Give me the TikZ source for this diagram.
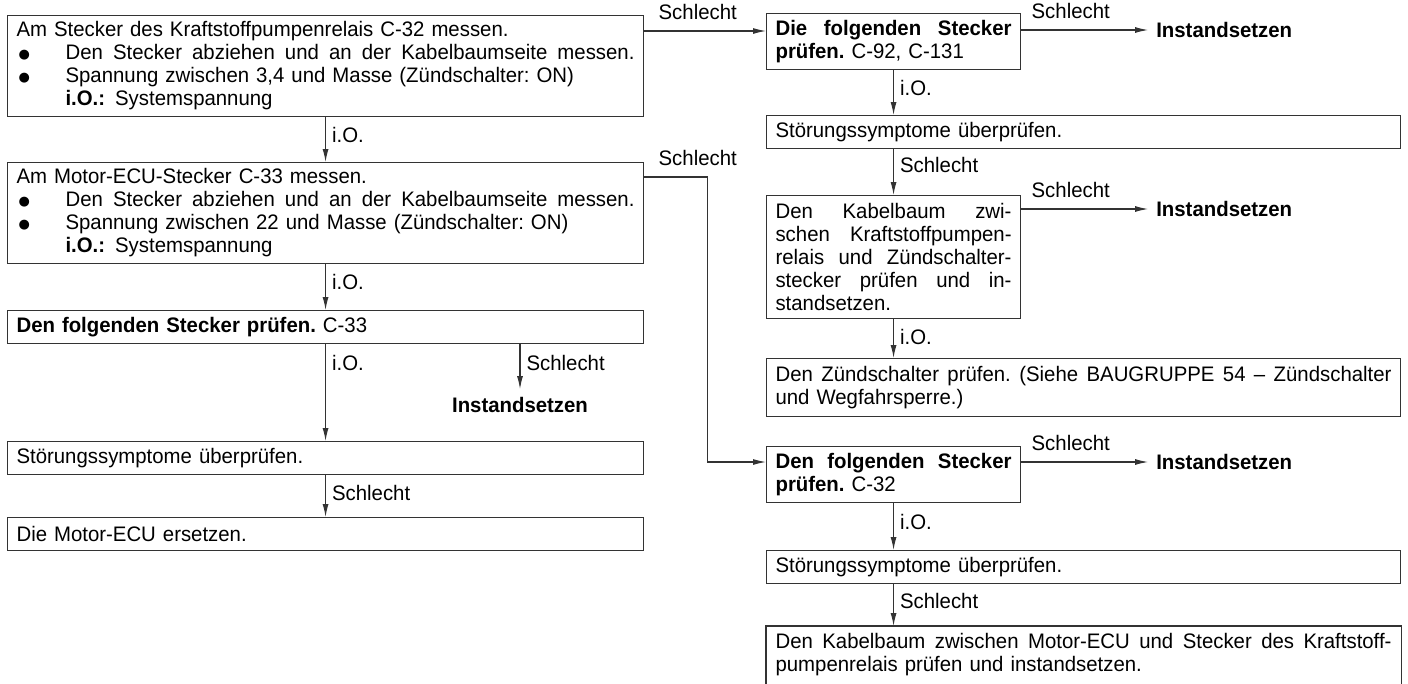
\documentclass[tikz,border=0pt]{standalone}
\usepackage{fontspec}
\setmainfont{Liberation Sans}[FakeStretch=0.97]
\newfontfamily\symf{DejaVu Sans}
\usetikzlibrary{arrows.meta,calc}

% text size used throughout the chart
\newcommand{\txt}{\fontsize{21}{23}\selectfont\frenchspacing}
% list bullet with hanging indent
\newcommand{\bul}{\makebox[49pt][l]{\hspace{2pt}{\symf\fontsize{13}{13}\selectfont\raisebox{1.5pt}{●}}}}
% a justified (full-width) line: word spaces stretch to fill the width
\newcommand{\spread}[2]{{\spaceskip=0.27em plus 1fil\relax\makebox[#1][s]{#2}}}

\tikzset{
  edge/.style={line width=1.1pt, draw=black!80},
  box/.style={edge, draw, anchor=north west, inner xsep=9pt, inner ysep=0pt, align=left, font=\txt},
  flow/.style={edge, -{Latex[length=13pt,width=6pt]}},
  lbl/.style={font=\txt, inner sep=3pt},
  lblup/.style={lbl, anchor=south west, yshift=8pt},
  lblside/.style={lbl, anchor=west, xshift=3pt},
  fix/.style={font=\txt\bfseries, inner sep=8pt},
}

\begin{document}
\begin{tikzpicture}[x=1pt,y=-1pt]
\useasboundingbox (0,0) rectangle (1408,683);
\clip (0,0) rectangle (1408,683);

% ---------------- left column ----------------
\node[box, text width=618pt, minimum height=101pt] (b1) at (7,15) {%
Am Stecker des Kraftstoffpumpenrelais C-32 messen.\\
\bul\spread{569pt}{Den Stecker abziehen und an der Kabelbaumseite messen.}\\
\bul Spannung zwischen 3,4 und Masse (Zündschalter: ON)\\
\hspace*{49pt}\textbf{i.O.:}\hspace{10pt}Systemspannung};

\node[box, text width=618pt, minimum height=101pt] (b2) at (7,162) {%
Am Motor-ECU-Stecker C-33 messen.\\
\bul\spread{569pt}{Den Stecker abziehen und an der Kabelbaumseite messen.}\\
\bul Spannung zwischen 22 und Masse (Zündschalter: ON)\\
\hspace*{49pt}\textbf{i.O.:}\hspace{10pt}Systemspannung};

\node[box, text width=618pt, minimum height=33pt] (b3) at (7,310)
  {\textbf{Den folgenden Stecker prüfen.} C-33};
\node[box, text width=618pt, minimum height=33pt] (sl) at (7,441)
  {Störungssymptome überprüfen.};
\node[box, text width=618pt, minimum height=33pt] (dl) at (7,517)
  {Die Motor-ECU ersetzen.};
\node[fix] (instL) at (520,405) {Instandsetzen};

% ---------------- right column ----------------
\node[box, text width=236pt, minimum height=56pt] (b6) at (766,13) {%
\spread{236pt}{\textbf{Die folgenden Stecker}}\\
\textbf{prüfen.} C-92, C-131};
\node[box, text width=616pt, minimum height=33pt] (sr1) at (766,115)
  {Störungssymptome überprüfen.};
\node[box, text width=236pt, minimum height=123pt] (kb) at (766,195) {%
\spread{236pt}{Den Kabelbaum zwi-}\\
\spread{236pt}{schen Kraftstoffpumpen-}\\
\spread{236pt}{relais und Zündschalter-}\\
\spread{236pt}{stecker prüfen und in-}\\
standsetzen.};
\node[box, text width=616pt, minimum height=58pt] (zs) at (766,358) {%
\spread{616pt}{Den Zündschalter prüfen. (Siehe BAUGRUPPE 54 – Zündschalter}\\
und Wegfahrsperre.)};
\node[box, text width=236pt, minimum height=56pt] (b10) at (766,446) {%
\spread{236pt}{\textbf{Den folgenden Stecker}}\\
\textbf{prüfen.} C-32};
\node[box, text width=616pt, minimum height=33pt] (sr2) at (766,550)
  {Störungssymptome überprüfen.};
\node[box, draw=none, text width=616pt, minimum height=56pt] (last) at (766,626) {%
\spread{616pt}{Den Kabelbaum zwischen Motor-ECU und Stecker des Kraftstoff-}\\
pumpenrelais prüfen und instandsetzen.};
% the last box runs on past the lower edge
\draw[edge] ($(last.south west)+(0,30)$) -- (last.north west) -- (last.north east) -- ($(last.south east)+(0,30)$);

% exit points on the right-hand sides
\coordinate (q1) at ($(b6.north east)+(0,17)$);
\coordinate (q2) at ($(kb.north east)+(0,14)$);
\coordinate (q3) at ($(b10.north east)+(0,16)$);
\node[fix, anchor=west] (instR1) at ($(q1)+(127,0)$) {Instandsetzen};
\node[fix, anchor=west] (instR2) at ($(q2)+(127,0)$) {Instandsetzen};
\node[fix, anchor=west] (instR3) at ($(q3)+(127,0)$) {Instandsetzen};

% ---------------- connectors: left column ----------------
\draw[flow] (b1.south) -- node[lblside, pos=0.4] {i.O.} (b2.north);
\draw[flow] (b2.south) -- node[lblside, pos=0.4] {i.O.} (b3.north);
\draw[flow] (b3.south) -- node[lblside, pos=0.2] {i.O.} (sl.north);
\draw[flow] (b3.south -| instL.north) -- node[lblside, pos=0.42] {Schlecht} (instL.north);
\draw[flow] (sl.south) -- node[lblside, pos=0.42] {Schlecht} (dl.north);

% ---------------- connectors: across ----------------
\coordinate (p1) at ($(b1.north east)+(0,16)$);
\coordinate (p2) at ($(b2.north east)+(0,15)$);
\coordinate (p3) at ($(b10.north west)+(0,16)$);
\draw[flow] (p1) node[lblup, xshift=11pt] {Schlecht} -- (p1 -| b6.west);
\draw[flow] (p2) node[lblup, xshift=11pt] {Schlecht} -- ++(63,0) |- (p3);

% ---------------- connectors: right column ----------------
\draw[flow] (q1) node[lblup, xshift=7pt] {Schlecht} -- (instR1.west);
\draw[flow] (q2) node[lblup, xshift=7pt] {Schlecht} -- (instR2.west);
\draw[flow] (q3) node[lblup, xshift=7pt] {Schlecht} -- (instR3.west);

\draw[flow] (b6.south) -- node[lblside, pos=0.4] {i.O.} (b6.south |- sr1.north);
\draw[flow] (sr1.south -| kb.north) -- node[lblside, pos=0.35] {Schlecht} (kb.north);
\draw[flow] (kb.south) -- node[lblside, pos=0.45] {i.O.} (kb.south |- zs.north);
\draw[flow] (b10.south) -- node[lblside, pos=0.4] {i.O.} (b10.south |- sr2.north);
\draw[flow] (sr2.south -| b10.south) -- node[lblside, pos=0.4] {Schlecht} (b10.south |- last.north);
\end{tikzpicture}
\end{document}
